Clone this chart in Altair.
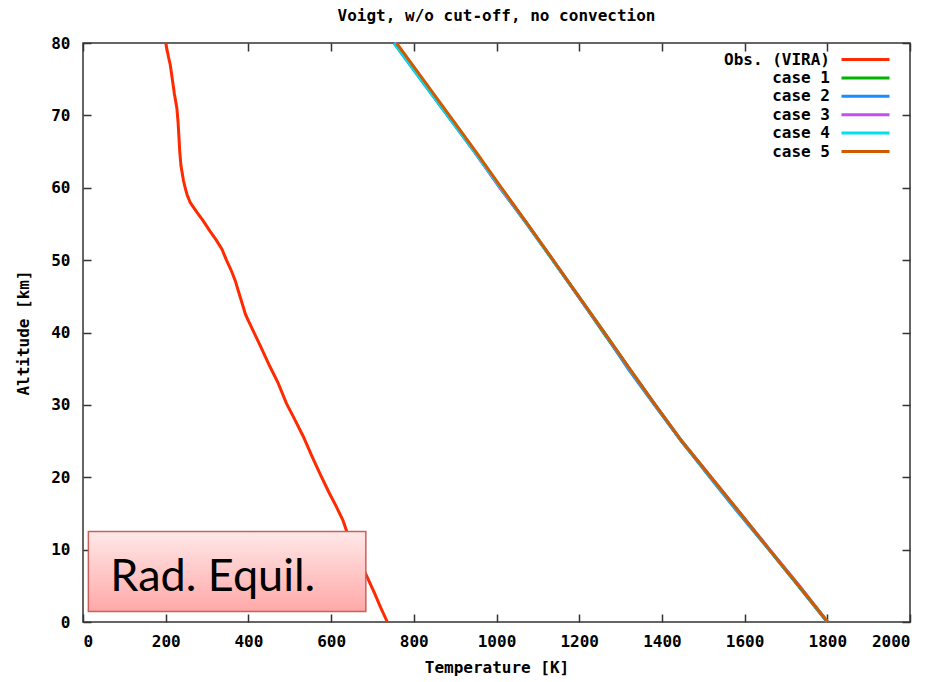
import altair as alt
import pandas as pd

# ---------------- data ----------------
series_names = ["Obs. (VIRA)", "case 1", "case 2", "case 3", "case 4", "case 5"]
series_colors = ["#ff2a00", "#00b400", "#1a8cff", "#c050f0", "#00e0ee", "#d05a00"]

obs_alt = [80, 78, 77, 75, 73, 71, 69, 67, 65, 63, 62, 61, 60, 59, 58, 57.4, 56.5, 55.5,
           54, 52.8, 51.5, 50, 48.5, 47.2, 45.5, 44, 42.5, 41.5, 40.3, 38, 35.3, 33, 30.2,
           28, 25.6, 23, 20.5, 18, 15.9, 14, 12, 10, 8, 6, 4, 2, 0]
obs_T = [200, 207, 211, 216, 221, 227, 230, 232, 234, 237, 240, 243, 247, 252, 259, 266, 277, 290,
         307, 322, 336, 347, 359, 368, 377, 385, 393, 401, 411, 430, 452, 472, 492,
         512, 533, 553, 573, 594, 613, 629, 641, 657, 673, 689, 705, 720, 736]

case_alt = [80, 75, 70, 65, 60, 55, 50, 45, 40, 35, 30, 25, 20, 15, 10, 5, 0]
case1_T = [754, 818, 882, 948, 1010, 1074, 1136, 1198, 1258, 1320, 1383, 1447, 1518, 1589, 1659, 1730, 1800]
case2_T = [752, 816, 881, 946, 1009, 1073, 1136, 1198, 1260, 1318, 1382, 1447, 1516, 1586, 1659, 1730, 1800]
case3_T = [755, 819, 884, 947, 1008, 1074, 1137, 1198, 1260, 1321, 1384, 1448, 1519, 1590, 1661, 1733, 1801]
case4_T = [753, 817, 882, 947, 1010, 1074, 1136, 1199, 1261, 1321, 1384, 1448, 1518, 1589, 1660, 1731, 1801]
case5_T = [758, 822, 886, 950, 1012, 1075, 1137, 1199, 1261, 1322, 1384, 1448, 1519, 1590, 1660, 1731, 1801]

x_ticks = [0, 200, 400, 600, 800, 1000, 1200, 1400, 1600, 1800, 2000]
y_ticks = [0, 10, 20, 30, 40, 50, 60, 70, 80]

# annotation box ("Rad. Equil.") in data units
box_T = [13, 684]
box_alt = [1.44, 12.5]
note_T = [66]
note_alt = [4.3]
note_text = ["Rad. Equil."]

# ---------------- tables ----------------
rows = []
for T, A in zip(obs_T, obs_alt):
    rows.append({"series": series_names[0], "T": T, "alt": A})
for name, ts in zip(series_names[1:], [case1_T, case2_T, case3_T, case4_T, case5_T]):
    for T, A in zip(ts, case_alt):
        rows.append({"series": name, "T": T, "alt": A})
df = pd.DataFrame(rows)

box_df = pd.DataFrame({"x0": [box_T[0]], "x1": [box_T[1]], "y0": [box_alt[0]], "y1": [box_alt[1]]})
note_df = pd.DataFrame({"tx": note_T, "ty": note_alt, "label": note_text})

FONT = "DejaVu Sans Mono"
FRAME = "#333333"

xscale = alt.Scale(domain=[0, 2000], nice=False, zero=False)
yscale = alt.Scale(domain=[0, 80], nice=False, zero=False)

# label axes (no ticks)
x_lab_axis = alt.Axis(orient="bottom", values=x_ticks, format="d", tickSize=0, domain=False, grid=False,
                      labelPadding=11, labelFont=FONT, labelFontSize=16, labelFontWeight="bold",
                      labelColor="black", title="Temperature [K]", titleFont=FONT, titleFontSize=16,
                      titleFontWeight="bold", titleColor="black", titlePadding=10)
y_lab_axis = alt.Axis(orient="left", values=y_ticks, format="d", tickSize=0, domain=False, grid=False,
                      labelPadding=13, labelFont=FONT, labelFontSize=16, labelFontWeight="bold",
                      labelColor="black", title="Altitude [km]", titleFont=FONT, titleFontSize=16,
                      titleFontWeight="bold", titleColor="black", titlePadding=19)


def tick_axis(orient, values):
    return alt.Axis(orient=orient, values=values, labels=False, domain=False, grid=False,
                    tickSize=8, offset=-8, tickColor=FRAME, tickWidth=1.5, title=None)


color = alt.Color("series:N", scale=alt.Scale(domain=series_names, range=series_colors),
                  legend=alt.Legend(orient="none", legendX=774.5, legendY=8.5, title=None,
                                    symbolType="M-12,0H12", symbolSize=16, symbolStrokeWidth=3,
                                    labelAlign="right", labelOffset=alt.ExprRef(expr="-43.5"),
                                    labelFont=FONT,
                                    labelFontSize=16, labelFontWeight="bold", labelColor="black",
                                    rowPadding=2.4, padding=0, labelLimit=400))

lines = alt.Chart(df).mark_line(strokeWidth=3).encode(
    x=alt.X("T:Q", scale=xscale, axis=x_lab_axis),
    y=alt.Y("alt:Q", scale=yscale, axis=y_lab_axis),
    color=color,
    order=alt.Order("alt:Q", sort="descending"),
)

box = alt.Chart(box_df).mark_rect(
    fill=alt.Gradient(gradient="linear",
                      stops=[alt.GradientStop(color="#ffe8e8", offset=0),
                             alt.GradientStop(color="#ffa8a8", offset=1)],
                      x1=0, x2=0, y1=0, y2=1),
    stroke="#c8605c", strokeWidth=1.5,
).encode(
    x=alt.X("x0:Q", scale=xscale, axis=tick_axis("bottom", x_ticks)),
    x2="x1:Q",
    y=alt.Y("y0:Q", scale=yscale, axis=tick_axis("left", y_ticks)),
    y2="y1:Q",
)

note = alt.Chart(note_df).mark_text(font="Lato", fontSize=45, align="left",
                                    baseline="alphabetic", color="black").encode(
    x=alt.X("tx:Q", scale=xscale, axis=tick_axis("top", x_ticks)),
    y=alt.Y("ty:Q", scale=yscale, axis=tick_axis("right", y_ticks)),
    text="label:N",
)

chart = alt.layer(lines, box, note).resolve_axis(x="independent", y="independent").properties(
    width=827, height=579,
    title=alt.TitleParams("Voigt, w/o cut-off, no convection", font=FONT, fontSize=16,
                          fontWeight="bold", color="black", offset=11, anchor="middle"),
    autosize=alt.AutoSizeParams(type="none"),
    padding={"left": 83, "top": 43, "right": 27, "bottom": 60},
    background="white",
).configure_view(stroke=FRAME, strokeWidth=1.5)

chart.save("out.html", embed_options={"renderer": "svg", "actions": False})
